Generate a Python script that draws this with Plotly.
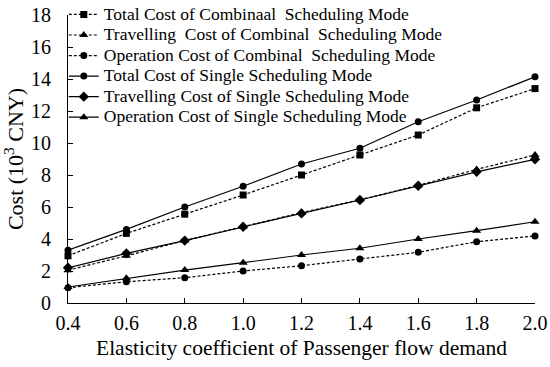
import plotly.graph_objects as go

x_vals = [0.4, 0.6, 0.8, 1.0, 1.2, 1.4, 1.6, 1.8, 2.0]
total_comb = [2.95, 4.35, 5.55, 6.75, 8.0, 9.25, 10.5, 12.2, 13.4]
travel_comb = [2.05, 2.95, 3.9, 4.77, 5.65, 6.45, 7.35, 8.35, 9.25]
oper_comb = [0.95, 1.33, 1.58, 2.0, 2.33, 2.75, 3.17, 3.83, 4.19]
total_single = [3.3, 4.6, 6.0, 7.3, 8.69, 9.67, 11.33, 12.69, 14.14]
travel_single = [2.2, 3.1, 3.9, 4.77, 5.6, 6.44, 7.33, 8.2, 8.98]
oper_single = [1.0, 1.54, 2.06, 2.52, 3.0, 3.42, 4.0, 4.52, 5.08]

names = [
    "Total Cost of Combinaal  Scheduling Mode",
    "Travelling  Cost of Combinal  Scheduling Mode",
    "Operation Cost of Combinal  Scheduling Mode",
    "Total Cost of Single Scheduling Mode",
    "Travelling Cost of Single Scheduling Mode",
    "Operation Cost of Single Scheduling Mode",
]
series = [total_comb, travel_comb, oper_comb, total_single, travel_single, oper_single]
symbols = ["square", "triangle-up", "circle", "circle", "diamond", "triangle-up"]
sizes = [7, 8, 7, 7, 8, 8]
dashes = ["3px,2px", "3px,2px", "3px,2px", "solid", "solid", "solid"]

fig = go.Figure()
for n, s, sym, sz, d in zip(names, series, symbols, sizes, dashes):
    fig.add_trace(go.Scatter(
        x=x_vals, y=s,
        name='<span style="font-size:17.5px">' + n.replace("  ", "&nbsp; ") + "</span>",
        mode="lines+markers",
        line=dict(color="black", width=1.2, dash=d),
        marker=dict(symbol=sym, size=sz, color="black"),
        cliponaxis=False,
    ))

font_family = "Liberation Serif, DejaVu Serif, serif"
fig.update_layout(
    width=550, height=367,
    margin=dict(l=68, r=15, t=15, b=64, autoexpand=False),
    paper_bgcolor="white", plot_bgcolor="white",
    font=dict(family=font_family, color="black", size=16),
    showlegend=True,
    legend=dict(
        x=-0.009, y=1.055, xanchor="left", yanchor="top",
        bgcolor="rgba(0,0,0,0)", font=dict(size=13.5, family=font_family),
        tracegroupgap=0, itemwidth=30,
    ),
    xaxis=dict(
        range=[0.4, 2.0], tickvals=x_vals,
        ticktext=[f"{v:.1f}" for v in x_vals],
        showline=True, linecolor="black", linewidth=1,
        ticks="inside", ticklen=5, tickcolor="black",
        showgrid=False, zeroline=False, automargin=False,
        tickfont=dict(size=20), ticklabelstandoff=2,
        title=dict(text="Elasticity coefficient of Passenger flow demand", font=dict(size=21.5), standoff=6),
    ),
    yaxis=dict(
        range=[0, 18], tickvals=list(range(0, 19, 2)),
        showline=True, linecolor="black", linewidth=1,
        ticks="inside", ticklen=5, tickcolor="black",
        showgrid=False, zeroline=False, automargin=False,
        tickfont=dict(size=20), ticklabelstandoff=12,
        title=dict(text="Cost (10<sup>3</sup> CNY)", font=dict(size=22), standoff=2),
    ),
)

fig.write_html(
    "out.html",
    config={"displayModeBar": False},
    post_script="document.body.style.margin='0';document.body.style.overflow='hidden';",
)
